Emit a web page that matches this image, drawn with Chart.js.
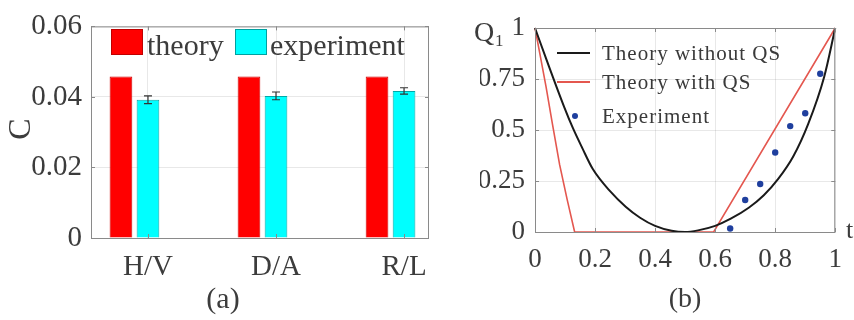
<!DOCTYPE html>
<html>
<head>
<meta charset="UTF-8">
<title>C and Q1 charts</title>
<script src="https://cdn.jsdelivr.net/npm/chart.js"></script>
<style>
    body { margin: 0; background: #fff; }
    #wrap { position: relative; width: 854px; height: 320px; }
    canvas { position: absolute; left: 0; top: 0; }
</style>
</head>
<body>
<div id="wrap">
    <canvas id="barChart" width="854" height="320"></canvas>
    <canvas id="lineChart" width="854" height="320"></canvas>
</div>
<script>
// ---- data for panel (a)
const categories = ['H/V', 'D/A', 'R/L'];
const catPos = [1, 2, 3];
const theoryC = [0.0458, 0.0458, 0.0458];
const experimentC = [0.0392, 0.0403, 0.0417];
const experimentErr = [0.0011, 0.0011, 0.0009];
const emptyC = [0, 0, 0];
const cTicks = [0, 0.02, 0.04, 0.06];

// ---- data for panel (b)
const noQsT = [0, 0.037, 0.098, 0.126, 0.158, 0.192, 0.25, 0.302, 0.35, 0.40, 0.455, 0.50, 0.543, 0.60, 0.652, 0.713, 0.762, 0.81, 0.86, 0.91, 0.963, 1];
const noQsQ = [1, 0.85, 0.61, 0.51, 0.41, 0.31, 0.2, 0.124, 0.07, 0.03, 0.006, 0, 0.008, 0.03, 0.065, 0.12, 0.18, 0.26, 0.37, 0.53, 0.76, 1];
const qsT = [0, 0.018, 0.037, 0.058, 0.082, 0.107, 0.132, 0.595, 1];
const qsQ = [1, 0.86, 0.71, 0.53, 0.33, 0.16, 0, 0, 1];
const expT = [0.65, 0.70, 0.75, 0.80, 0.85, 0.90, 0.95];
const expQ = [0.017, 0.157, 0.235, 0.39, 0.519, 0.582, 0.776];
const tTicks = [0, 0.2, 0.4, 0.6, 0.8, 1];
const qTicks = [0, 0.25, 0.5, 0.75, 1];

const serif = '"Liberation Serif", "Times New Roman", serif';
const axisGrey = '#8a8a8a';
const gridGrey = 'rgba(0,0,0,0.09)';
const textGrey = '#3c3c3c';

function toPoints(xs, ys) {
    return xs.map((x, i) => ({ x: x, y: ys[i] }));
}

// frame round the plot area plus small inward ticks on all sides
const framePlugin = {
    id: 'frame',
    afterDatasetsDraw(chart) {
        const a = chart.chartArea;
        const ctx = chart.ctx;
        const xs = chart.scales.x, ys = chart.scales.y;
        ctx.save();
        ctx.strokeStyle = axisGrey;
        ctx.lineWidth = 1;
        ctx.strokeRect(a.left + 0.5, a.top + 0.5, a.right - a.left - 1, a.bottom - a.top);
        ctx.beginPath();
        xs.ticks.forEach(t => {
            const px = Math.round(xs.getPixelForValue(t.value)) + 0.5;
            ctx.moveTo(px, a.bottom); ctx.lineTo(px, a.bottom - 4);
            ctx.moveTo(px, a.top); ctx.lineTo(px, a.top + 4);
        });
        ys.ticks.forEach(t => {
            const py = Math.round(ys.getPixelForValue(t.value)) + 0.5;
            ctx.moveTo(a.left, py); ctx.lineTo(a.left + 4, py);
            ctx.moveTo(a.right, py); ctx.lineTo(a.right - 4, py);
        });
        ctx.stroke();
        ctx.restore();
    }
};

// error bars on the experiment bars
const errorBarPlugin = {
    id: 'errorBars',
    afterDatasetsDraw(chart) {
        const meta = chart.getDatasetMeta(1);
        const ys = chart.scales.y;
        const ctx = chart.ctx;
        ctx.save();
        ctx.strokeStyle = '#333';
        ctx.lineWidth = 1.2;
        meta.data.forEach((bar, i) => {
            const hi = ys.getPixelForValue(experimentC[i] + experimentErr[i]);
            const lo = ys.getPixelForValue(experimentC[i] - experimentErr[i]);
            ctx.beginPath();
            ctx.moveTo(bar.x, hi); ctx.lineTo(bar.x, lo);
            ctx.moveTo(bar.x - 4, hi); ctx.lineTo(bar.x + 4, hi);
            ctx.moveTo(bar.x - 4, lo); ctx.lineTo(bar.x + 4, lo);
            ctx.stroke();
        });
        ctx.restore();
    }
};

const barTextPlugin = {
    id: 'barTexts',
    afterDraw(chart) {
        const ctx = chart.ctx;
        ctx.save();
        ctx.fillStyle = textGrey;
        // y title
        ctx.save();
        ctx.translate(22, 129);
        ctx.rotate(-Math.PI / 2);
        ctx.font = '32px ' + serif;
        ctx.textAlign = 'center';
        ctx.textBaseline = 'middle';
        ctx.fillText('C', 0, 0);
        ctx.restore();
        // panel label
        ctx.font = '30px ' + serif;
        ctx.textAlign = 'center';
        ctx.textBaseline = 'middle';
        ctx.fillText('(a)', 223, 300);
        // legend
        ctx.textAlign = 'left';
        ctx.textBaseline = 'alphabetic';
        ctx.fillStyle = '#ff0000';
        ctx.fillRect(111, 29, 32, 26);
        ctx.strokeStyle = '#c00000';
        ctx.strokeRect(111.5, 29.5, 31, 25);
        ctx.fillStyle = '#00ffff';
        ctx.fillRect(235, 29, 32, 26);
        ctx.strokeStyle = '#00a0a0';
        ctx.strokeRect(235.5, 29.5, 31, 25);
        ctx.fillStyle = textGrey;
        ctx.fillText('theory', 147, 55);
        ctx.fillText('experiment', 270, 55);
        ctx.restore();
    }
};

const lineTextPlugin = {
    id: 'lineTexts',
    afterDraw(chart) {
        const ctx = chart.ctx;
        ctx.save();
        ctx.fillStyle = textGrey;
        ctx.textBaseline = 'middle';
        ctx.textAlign = 'left';
        ctx.font = '28px ' + serif;
        ctx.fillText('Q', 474, 34);
        ctx.font = '17px ' + serif;
        ctx.fillText('1', 495, 42);
        ctx.font = '26px ' + serif;
        ctx.fillText('t', 846, 231);
        ctx.textAlign = 'center';
        ctx.font = '28px ' + serif;
        ctx.fillText('(b)', 685, 300);
        // legend
        ctx.lineWidth = 2;
        ctx.strokeStyle = '#1a1a1a';
        ctx.beginPath(); ctx.moveTo(557, 53); ctx.lineTo(590, 53); ctx.stroke();
        ctx.strokeStyle = '#e4574f';
        ctx.beginPath(); ctx.moveTo(557, 82); ctx.lineTo(590, 82); ctx.stroke();
        ctx.fillStyle = '#1f3f9e';
        ctx.beginPath(); ctx.arc(575, 116, 3, 0, Math.PI * 2); ctx.fill();
        ctx.fillStyle = '#3a3a3a';
        ctx.textAlign = 'left';
        ctx.textBaseline = 'alphabetic';
        ctx.font = '21px ' + serif;
        ctx.letterSpacing = '1px';
        ctx.fillText('Theory without QS', 602, 60);
        ctx.fillText('Theory with QS', 602, 89);
        ctx.fillText('Experiment', 602, 123);
        ctx.restore();
    }
};

// panel (a): grouped bars
new Chart(document.getElementById('barChart'), {
    type: 'bar',
    data: {
        datasets: [
            {
                label: 'theory',
                data: toPoints(catPos, theoryC),
                backgroundColor: '#ff0000',
                borderColor: '#d00000',
                borderWidth: 1
            },
            {
                label: 'experiment',
                data: toPoints(catPos, experimentC),
                backgroundColor: '#00ffff',
                borderColor: '#00a8a8',
                borderWidth: 1
            },
            {
                label: '',
                data: toPoints(catPos, emptyC),
                backgroundColor: 'rgba(0,0,0,0)',
                borderColor: '#999',
                borderWidth: 1
            }
        ]
    },
    options: {
        responsive: false,
        animation: false,
        events: [],
        categoryPercentage: 0.633,
        barPercentage: 0.84,
        layout: { padding: { left: 0, top: 22, right: 425, bottom: 0 } },
        plugins: { legend: { display: false }, tooltip: { enabled: false } },
        scales: {
            x: {
                type: 'linear',
                offset: false,
                min: 0.555,
                max: 3.195,
                afterBuildTicks: s => { s.ticks = catPos.map(v => ({ value: v })); },
                afterFit: s => { s.height = 82; },
                grid: { color: gridGrey, drawTicks: false, offset: false },
                border: { display: false },
                ticks: {
                    padding: 12,
                    color: textGrey,
                    font: { family: serif, size: 29 },
                    callback: v => categories[catPos.indexOf(v)] || ''
                }
            },
            y: {
                min: 0,
                max: 0.06,
                afterBuildTicks: s => { s.ticks = cTicks.map(v => ({ value: v })); },
                afterFit: s => { s.width = 91; },
                grid: { color: gridGrey, drawTicks: false },
                border: { display: false },
                ticks: {
                    padding: 9,
                    color: textGrey,
                    font: { family: serif, size: 29 },
                    callback: v => String(v)
                }
            }
        }
    },
    plugins: [framePlugin, errorBarPlugin, barTextPlugin]
});

// panel (b): curves and measured points
new Chart(document.getElementById('lineChart'), {
    type: 'scatter',
    data: {
        datasets: [
            {
                label: 'Theory without QS',
                data: toPoints(noQsT, noQsQ),
                showLine: true,
                borderColor: '#1a1a1a',
                borderWidth: 2,
                pointRadius: 0,
                cubicInterpolationMode: 'monotone',
                clip: false
            },
            {
                label: 'Theory with QS',
                data: toPoints(qsT, qsQ),
                showLine: true,
                borderColor: '#e4574f',
                borderWidth: 1.6,
                pointRadius: 0,
                tension: 0,
                clip: false
            },
            {
                label: 'Experiment',
                data: toPoints(expT, expQ),
                showLine: false,
                backgroundColor: '#1f3f9e',
                borderWidth: 0,
                pointRadius: 3.2,
                clip: false
            }
        ]
    },
    options: {
        responsive: false,
        animation: false,
        events: [],
        layout: { padding: { left: 480, top: 28, right: 15, bottom: 0 } },
        plugins: { legend: { display: false }, tooltip: { enabled: false } },
        scales: {
            x: {
                type: 'linear',
                min: 0,
                max: 1,
                afterBuildTicks: s => { s.ticks = tTicks.map(v => ({ value: v })); },
                afterFit: s => { s.height = 88; },
                grid: { color: gridGrey, drawTicks: false },
                border: { display: false },
                ticks: {
                    padding: 12,
                    color: textGrey,
                    font: { family: serif, size: 27 },
                    callback: v => String(v)
                }
            },
            y: {
                min: 0,
                max: 1,
                afterBuildTicks: s => { s.ticks = qTicks.map(v => ({ value: v })); },
                afterFit: s => { s.width = 55; },
                grid: { color: gridGrey, drawTicks: false },
                border: { display: false },
                ticks: {
                    padding: 10,
                    color: textGrey,
                    font: { family: serif, size: 27 },
                    callback: v => String(v)
                }
            }
        }
    },
    plugins: [framePlugin, lineTextPlugin]
});
</script>
</body>
</html>
